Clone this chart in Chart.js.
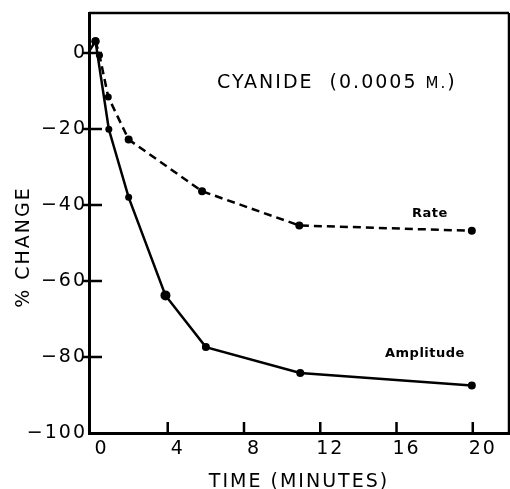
<html>
<head>
<title>Cyanide</title>
<script src="https://cdn.jsdelivr.net/npm/chart.js@4.4.1/dist/chart.umd.min.js"></script>
<style>
body { margin: 0; background: #fff; }
#chart { display: block; }
</style>
</head>
<body>
<canvas id="chart" width="510" height="489"></canvas>
<script>
// values (minutes, % change)
var ampX = [-0.1, 0.21, 0.91, 1.95, 3.88, 6.0, 10.95, 19.95];
var ampY = [0.6, 3.1, -20.1, -38, -63.8, -77.4, -84.2, -87.5];
var ampR = [0, 4, 3.5, 3.5, 5, 4, 4, 4];

var rateX = [0.21, 0.42, 0.88, 1.95, 5.8, 10.9, 19.95];
var rateY = [3.1, -0.6, -11.6, -22.8, -36.4, -45.4, -46.8];
var rateR = [4, 3.5, 3.5, 4, 4, 4, 4];

var xTicks = [0, 4, 8, 12, 16, 20];
var yTicks = [0, -20, -40, -60, -80, -100];

var FONT = "'DejaVu Sans', sans-serif";

function pts(xs, ys) {
	var out = [];
	for (var i = 0; i < xs.length; i++) out.push({x: xs[i], y: ys[i]});
	return out;
}
function fixTicks(list) {
	return function(scale) {
		scale.ticks = list.map(function(v) { return {value: v}; });
	};
}

// inward tick marks, top/right frame, text labels
var extras = {
	id: 'extras',
	beforeDraw: function(chart) {
		chart.ctx.letterSpacing = '2px';
	},
	afterDraw: function(chart) {
		var ctx = chart.ctx, a = chart.chartArea;
		var xs = chart.scales.x, ys = chart.scales.y;
		ctx.save();
		ctx.strokeStyle = '#000';
		ctx.lineWidth = 2.5;
		ctx.beginPath();
		ctx.moveTo(a.left, a.top); ctx.lineTo(a.right, a.top);
		ctx.moveTo(a.right, a.top); ctx.lineTo(a.right, a.bottom);
		xTicks.forEach(function(v) {
			var px = xs.getPixelForValue(v);
			if (v === 0) return;
			ctx.moveTo(px, a.bottom); ctx.lineTo(px, a.bottom - 11);
		});
		yTicks.forEach(function(v) {
			var py = ys.getPixelForValue(v);
			if (v === -100) return;
			ctx.moveTo(a.left - 6, py); ctx.lineTo(a.left + 13, py);
		});
		ctx.stroke();

		ctx.fillStyle = '#000';
		ctx.textBaseline = 'alphabetic';
		ctx.textAlign = 'left';
		ctx.letterSpacing = '2px';
		// annotation
		var x0 = 217, y0 = 88;
		ctx.font = '19px ' + FONT;
		var s1 = 'CYANIDE  (0.0005 ';
		ctx.fillText(s1, x0, y0);
		x0 += ctx.measureText(s1).width;
		ctx.font = '15px ' + FONT;
		ctx.fillText('M.', x0, y0);
		x0 += ctx.measureText('M.').width;
		ctx.font = '19px ' + FONT;
		ctx.fillText(')', x0, y0);

		ctx.letterSpacing = '0.5px';
		ctx.font = 'bold 13px ' + FONT;
		ctx.fillText('Rate', 412, 217);
		ctx.fillText('Amplitude', 385, 357);

		// y axis title
		ctx.letterSpacing = '2px';
		ctx.translate(24, 247);
		ctx.rotate(-Math.PI / 2);
		ctx.textAlign = 'center';
		ctx.textBaseline = 'middle';
		ctx.font = '19px ' + FONT;
		ctx.fillText('% CHANGE', 0, 0);
		ctx.restore();
	}
};

new Chart(document.getElementById('chart'), {
	type: 'scatter',
	data: {
		datasets: [{
			label: 'Amplitude',
			data: pts(ampX, ampY),
			showLine: true,
			borderColor: '#000',
			backgroundColor: '#000',
			borderWidth: 2.5,
			pointRadius: ampR,
			pointBorderWidth: 0
		}, {
			label: 'Rate',
			data: pts(rateX, rateY),
			showLine: true,
			borderColor: '#000',
			backgroundColor: '#000',
			borderWidth: 2.5,
			borderDash: [8, 5],
			pointRadius: rateR,
			pointBorderWidth: 0
		}]
	},
	options: {
		responsive: false,
		animation: false,
		events: [],
		layout: { autoPadding: false, padding: { top: 13, right: 1, left: 0, bottom: 0 } },
		plugins: { legend: { display: false }, tooltip: { enabled: false } },
		scales: {
			x: {
				type: 'linear',
				min: -0.13, max: 21.9,
				afterBuildTicks: fixTicks(xTicks),
				afterFit: function(s) { s.height = 56; s.paddingLeft = 0; s.paddingRight = 0; },
				grid: { display: false },
				border: { display: true, color: '#000', width: 3 },
				ticks: {
					color: '#000', padding: -3, labelOffset: 10, maxRotation: 0,
					font: { family: FONT, size: 19 }
				},
				title: {
					display: true, text: 'TIME (MINUTES)', color: '#000',
					font: { family: FONT, size: 19 }, padding: { top: 0, bottom: -4 }
				}
			},
			y: {
				type: 'linear',
				min: -100, max: 10.5,
				afterBuildTicks: fixTicks(yTicks),
				afterFit: function(s) { s.width = 89; s.paddingTop = 0; s.paddingBottom = 0; },
				grid: { display: false },
				border: { display: true, color: '#000', width: 3 },
				ticks: {
					color: '#000', padding: -6,
					font: { family: FONT, size: 19 },
					callback: function(v) { return v < 0 ? '\u2212' + Math.abs(v) : '' + v; }
				}
			}
		}
	},
	plugins: [extras]
});
</script>
</body>
</html>
